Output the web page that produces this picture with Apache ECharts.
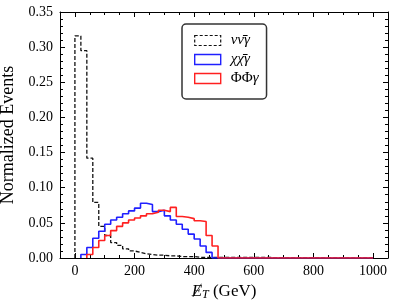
<!DOCTYPE html>
<html><head><meta charset="utf-8">
<script src="https://cdn.jsdelivr.net/npm/echarts@6/dist/echarts.min.js"></script>
<style>html,body{margin:0;padding:0;background:#fff}#c{width:394px;height:306px}</style>
</head><body><div id="c"></div>
<script>
// ---- data ----
const binWidth = 20;
const histEnd = 1000;
const nuStart = 0;
const nuValues = [0.316,0.295,0.142,0.079,0.045,0.032,0.022,0.018,0.013,0.010,0.008,0.006,0.005,0.004,0.004,0.003,0.003,0.002,0.002,0.002,0.001,0.001,0.001,0.001,0.001];
const chiStart = 20;
const chiValues = [0.005,0.015,0.028,0.038,0.048,0.054,0.058,0.063,0.067,0.071,0.078,0.076,0.066,0.068,0.060,0.054,0.048,0.041,0.034,0.027,0.017,0.008];
const phiStart = 40;
const phiValues = [0.005,0.015,0.025,0.032,0.039,0.045,0.050,0.054,0.057,0.060,0.063,0.065,0.068,0.066,0.072,0.059,0.058,0.056,0.053,0.052,0.032,0.017];
const xMajorTicks = [0,200,400,600,800,1000];
const xMinorTicks = [-50,50,100,150,250,300,350,450,500,550,650,700,750,850,900,950,1050];
const legendLabels = {nu:'{it|νν̄γ}', chi:'{it|χχ̄γ}', phi:'{up|ΦΦ}{it|γ}'};

function stepData(start, vals){
  const d = [[start,0]];
  vals.forEach((v,i)=>{ d.push([start+i*binWidth, v]); d.push([start+(i+1)*binWidth, v]); });
  d.push([start+vals.length*binWidth, 0]);
  d.push([histEnd, 0]);
  return d;
}

const FONT = 'Liberation Serif';
const chart = echarts.init(document.getElementById('c'));
function xAx(pos, ticks, len, labels, line){
  return {type:'value', position:pos, min:-50, max:1050, gridIndex:0,
    axisLine:{show:line, onZero:false, lineStyle:{color:'#000', width:1}},
    axisTick:{show:true, inside:true, length:len, customValues:ticks, lineStyle:{color:'#000', width:1}},
    axisLabel:{show:labels, customValues:ticks, margin:6, color:'#000', fontFamily:FONT, fontSize:14, formatter:v=>String(v)},
    splitLine:{show:false}};
}
function yAx(pos, labels){
  return {type:'value', position:pos, min:0, max:0.35, interval:0.05,
    axisLine:{show:true, onZero:false, lineStyle:{color:'#000', width:1}},
    axisTick:{show:true, inside:true, length:5, lineStyle:{color:'#000', width:1}},
    minorTick:{show:true, splitNumber:5, length:3, lineStyle:{color:'#000', width:1}},
    axisLabel:{show:labels, margin:7, color:'#000', fontFamily:FONT, fontSize:14, formatter:v=>v.toFixed(2)},
    splitLine:{show:false}, minorSplitLine:{show:false},
    name: labels ? 'Normalized Events' : '', nameLocation:'middle', nameGap:37,
    nameTextStyle:{fontFamily:FONT, fontSize:18, color:'#000'}};
}
const xMain = xAx('bottom', xMajorTicks, 5, true, true);
xMain.name = '{e|Ɇ}{s|T}{n| (GeV)}';
xMain.nameLocation = 'middle';
xMain.nameGap = 22;
xMain.nameTextStyle = {fontFamily:FONT, color:'#000', rich:{
  e:{fontFamily:'Liberation Serif, DejaVu Serif', fontStyle:'italic', fontSize:17, color:'#000'},
  s:{fontFamily:FONT, fontStyle:'italic', fontSize:12, color:'#000', padding:[7,0,0,0]},
  n:{fontFamily:FONT, fontSize:17, color:'#000'}}};

const colors = ['#111111','#2020ff','#ff2020'];
chart.setOption({
  animation:false,
  grid:{left:60, right:6, top:12, bottom:48, containLabel:false, outerBoundsMode:'none'},
  xAxis:[xMain, xAx('bottom', xMinorTicks, 3, false, false), xAx('top', xMajorTicks, 5, false, true), xAx('top', xMinorTicks, 3, false, false)],
  yAxis:[yAx('left', true), yAx('right', false)],
  legend:{show:true, selectedMode:false, orient:'vertical', left:182, top:24,
    icon:'rect', itemWidth:26, itemHeight:10, itemGap:4,
    padding:[9,8,13,12], backgroundColor:'#fff', borderColor:'#333', borderWidth:1.5, borderRadius:4,
    formatter:n=>legendLabels[n],
    textStyle:{fontFamily:FONT, fontSize:15, color:'#000', lineHeight:14, width:26, padding:[0,0,0,5],
      rich:{it:{fontFamily:FONT, fontStyle:'italic', fontSize:15, color:'#000'}, up:{fontFamily:FONT, fontSize:15, color:'#000'}}},
    data:[
      {name:'nu', itemStyle:{color:'transparent', borderColor:colors[0], borderWidth:1.2, borderType:[3,2]}},
      {name:'chi', itemStyle:{color:'transparent', borderColor:colors[1], borderWidth:1.4, borderType:'solid'}},
      {name:'phi', itemStyle:{color:'transparent', borderColor:colors[2], borderWidth:1.4, borderType:'solid'}}]},
  series:[
    {name:'nu', type:'line', xAxisIndex:0, yAxisIndex:0, data:stepData(nuStart,nuValues), showSymbol:false, symbol:'none',
      lineStyle:{color:colors[0], width:1.3, type:[4,2]}, itemStyle:{color:colors[0]}},
    {name:'chi', type:'line', xAxisIndex:0, yAxisIndex:0, data:stepData(chiStart,chiValues), showSymbol:false, symbol:'none',
      lineStyle:{color:colors[1], width:1.6}, itemStyle:{color:colors[1]}},
    {name:'phi', type:'line', xAxisIndex:0, yAxisIndex:0, data:stepData(phiStart,phiValues), showSymbol:false, symbol:'none',
      lineStyle:{color:colors[2], width:1.6}, itemStyle:{color:colors[2]}}
  ]
});
</script></body></html>
